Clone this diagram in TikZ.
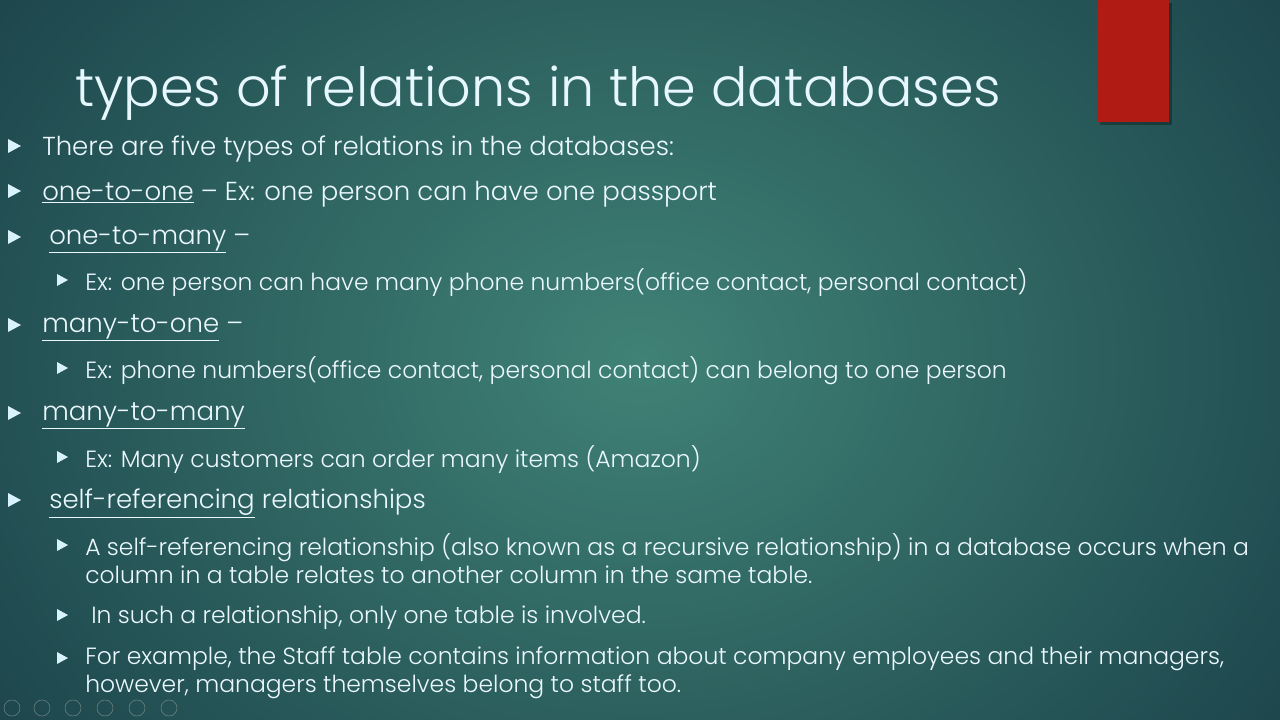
\documentclass[tikz,border=0pt]{standalone}
\usepackage{fontspec}
\setmainfont{Poppins Light}[BoldFont=Poppins]
\definecolor{bgin}{RGB}{64,130,118}
\definecolor{bgout}{RGB}{22,58,68}
\definecolor{redbox}{RGB}{176,28,20}
\begin{document}
\begin{tikzpicture}[x=0.75pt,y=-0.75pt,
  txt/.style={anchor=west,inner sep=0pt,text=white!92!cyan,font=\fontsize{19.5}{21}\selectfont},
  sub/.style={anchor=west,inner sep=0pt,text=white!92!cyan,font=\fontsize{17.6}{21}\selectfont,align=left}]
\useasboundingbox (0,0) rectangle (1280,720);
\shade[inner color=bgin,outer color=bgout] (-300,-400) rectangle (1580,1120);
\fill[black,opacity=0.3] (1100,3) rectangle (1172,125);
\fill[redbox] (1097,0) rectangle (1169,122);
\node[anchor=west,inner sep=0pt,text=white!90!cyan,font=\fontsize{40.5}{48}\selectfont] (title) at (75,93) {types of relations in the databases};
\foreach \y in {146,191,237,325,413,500}{\fill[cyan!15!white] (8,\y-7) -- (21,\y) -- (8,\y+7) -- cycle;}
\foreach \y in {280,368,457,545,615,658}{\fill[cyan!15!white] (57,\y-6) -- (68,\y) -- (57,\y+6) -- cycle;}
\node[txt] (a) at (42,149) {There are five types of relations in the databases:};
\node[txt] (b) at (42,194) {\underline{one-to-one} – Ex: one person can have one passport};
\node[txt] (c) at (49,240) {\underline{one-to-many} –};
\node[sub] (c1) at (85,283) {Ex: one person can have many phone numbers(office contact, personal contact)};
\node[txt] (d) at (42,328) {\underline{many-to-one} –};
\node[sub] (d1) at (85,371) {Ex: phone numbers(office contact, personal contact) can belong to one person};
\node[txt] (e) at (42,416) {\underline{many-to-many}};
\node[sub] (e1) at (85,460) {Ex: Many customers can order many items (Amazon)};
\node[txt] (f) at (49,503) {\underline{self-referencing} relationships};
\node[sub,anchor=north west] (f1) at (85,533) {A self-referencing relationship (also known as a recursive relationship) in a database occurs when a\\column in a table relates to another column in the same table.};
\node[sub] (f2) at (91,618) {In such a relationship, only one table is involved.};
\node[sub,anchor=north west] (f3) at (85,646) {For example, the Staff table contains information about company employees and their managers,\\however, managers themselves belong to staff too.};
\foreach \x in {12,42,73,105,137,169}{\draw[gray!70,opacity=0.6] (\x,708) circle (8);}
\end{tikzpicture}
\end{document}
